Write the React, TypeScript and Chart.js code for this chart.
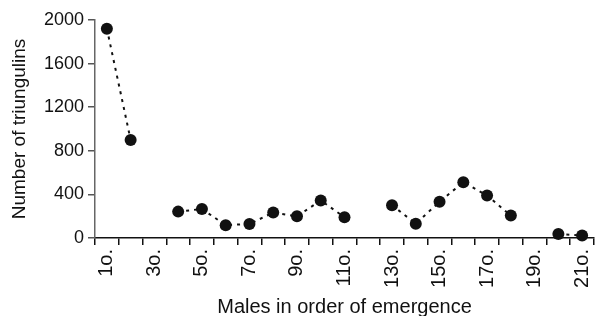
import React, { useEffect, useRef } from "react";
import { Chart, registerables } from "chart.js";

Chart.register(...registerables);

const categories: string[] = [
  "1o.", "2o.", "3o.", "4o.", "5o.", "6o.", "7o.", "8o.", "9o.", "10o.", "11o.",
  "12o.", "13o.", "14o.", "15o.", "16o.", "17o.", "18o.", "19o.", "20o.", "21o.",
];
const triungulins: (number | null)[] = [
  1920, 900, null, 242, 266, 118, 128, 234, 199, 345, 190,
  null, 301, 131, 332, 512, 390, 206, null, 37, 22,
];
const yTicks: number[] = [0, 400, 800, 1200, 1600, 2000];
const xTitle = "Males in order of emergence";
const yTitle = "Number of triungulins";

const FONT = "'Liberation Sans', Arial, Helvetica, sans-serif";

export default function App() {
  const ref = useRef<HTMLCanvasElement | null>(null);
  useEffect(() => {
    if (!ref.current) return;
    const chart = new Chart(ref.current, {
      type: "line",
      data: {
        labels: categories,
        datasets: [
          {
            data: triungulins,
            borderColor: "#111",
            borderWidth: 2,
            borderDash: [3, 5],
            pointRadius: 6,
            pointBackgroundColor: "#111",
            pointBorderWidth: 0,
            pointBorderColor: "#111",
            spanGaps: false,
            tension: 0,
            clip: false,
          },
        ],
      },
      options: {
        responsive: false,
        animation: false,
        layout: { autoPadding: false, padding: { top: 20, right: 2, left: 0, bottom: 0 } },
        plugins: { legend: { display: false }, tooltip: { enabled: false } },
        scales: {
          x: {
            type: "category",
            offset: true,
            grid: {
              display: true,
              offset: true,
              drawOnChartArea: false,
              drawTicks: true,
              tickLength: 7,
              color: "#111",
              lineWidth: 1.5,
            },
            border: { display: true, color: "#111", width: 1.5 },
            ticks: {
              autoSkip: false,
              maxRotation: 90,
              minRotation: 90,
              color: "#111",
              padding: 4,
              font: { family: FONT, size: 20 },
              callback: (_v: any, i: number) => (i % 2 === 0 ? categories[i] : ""),
            },
            title: {
              display: true,
              text: xTitle,
              color: "#111",
              font: { family: FONT, size: 20 },
              padding: { top: 0, bottom: -3 },
            },
            afterFit: (s: any) => {
              s.height = 78;
              s.paddingLeft = 0;
              s.paddingRight = 0;
            },
          },
          y: {
            min: 0,
            max: 2000,
            afterBuildTicks: (s: any) => {
              s.ticks = yTicks.map((v) => ({ value: v }));
            },
            grid: {
              display: true,
              drawOnChartArea: false,
              drawTicks: true,
              tickLength: 7,
              color: "#555",
              lineWidth: 1.5,
            },
            border: { display: true, color: "#666", width: 1.5 },
            ticks: {
              color: "#111",
              padding: 4,
              font: { family: FONT, size: 18 },
              callback: (v: any) => String(v),
            },
            title: {
              display: true,
              text: yTitle,
              color: "#111",
              font: { family: FONT, size: 19 },
              padding: { top: 8, bottom: 0 },
            },
            afterFit: (s: any) => {
              s.width = 95;
              s.paddingTop = 0;
              s.paddingBottom = 0;
            },
          },
        },
      },
    });
    return () => chart.destroy();
  }, []);
  return (
    <div style={{ position: "fixed", left: 0, top: 0, width: 596, height: 316, background: "#fff" }}>
      <canvas ref={ref} width={596} height={316} style={{ display: "block" }} />
    </div>
  );
}
